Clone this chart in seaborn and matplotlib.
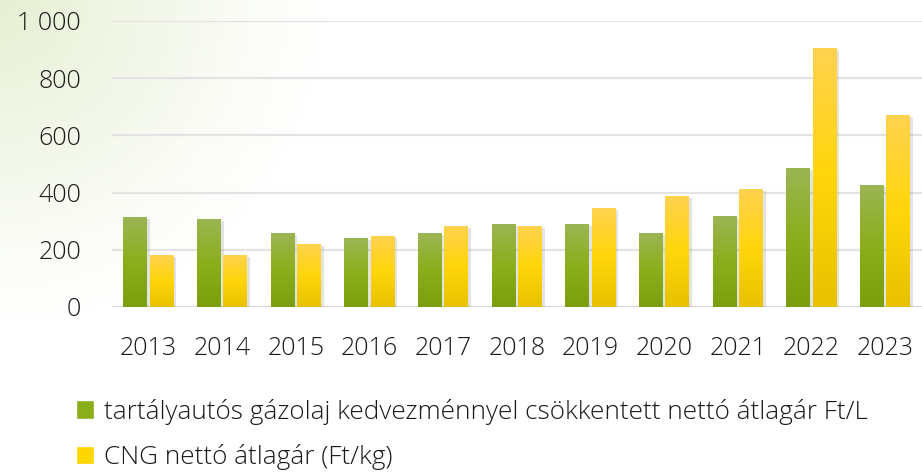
import numpy as np
import pandas as pd
import matplotlib
matplotlib.use("Agg")
import matplotlib.pyplot as plt
import matplotlib.patheffects as pe
from matplotlib.colors import LinearSegmentedColormap
from matplotlib.patches import Patch
from matplotlib.ticker import FuncFormatter
import seaborn as sns

years = ["2013", "2014", "2015", "2016", "2017", "2018", "2019", "2020", "2021", "2022", "2023"]
diesel = [314, 307, 258, 240, 258, 289, 289, 258, 317, 484, 425]
cng = [181, 181, 219, 247, 282, 282, 345, 387, 411, 903, 669]
labels = ["tartályautós gázolaj kedvezménnyel csökkentett nettó átlagár Ft/L",
          "CNG nettó átlagár (Ft/kg)"]
yticks = [0, 200, 400, 600, 800, 1000]

df = pd.DataFrame({
    "year": years * 2,
    "value": diesel + cng,
    "series": [labels[0]] * len(years) + [labels[1]] * len(years),
})

sns.set_theme(style="white")
plt.rcParams["font.family"] = ["Open Sans", "DejaVu Sans"]
plt.rcParams["font.weight"] = 300

fig = plt.figure(figsize=(9.22, 4.72), dpi=100)
fig.patch.set_facecolor("white")

# faint green glow in the top-left corner
bg = fig.add_axes([0, 0, 1, 1], zorder=-5)
h, w = 472, 922
yy, xx = np.mgrid[0:h, 0:w]
d = np.sqrt((xx / 330.0) ** 2 + (yy / 330.0) ** 2)
alpha = np.clip(1 - d, 0, 1) ** 1.2 * 0.35
img = np.zeros((h, w, 4))
img[..., 0], img[..., 1], img[..., 2] = 0.72, 0.82, 0.50
img[..., 3] = alpha
bg.imshow(img, extent=[0, 1, 0, 1], aspect="auto")
bg.axis("off")

ax = fig.add_axes([0.121, 0.3496, 0.879, 0.606])
ax.patch.set_alpha(0)

palette = {labels[0]: "#8aae1a", labels[1]: "#ffd700"}
sns.barplot(data=df, x="year", y="value", hue="series", hue_order=labels,
            palette=palette, width=0.72, gap=0.1, legend=False, ax=ax,
            saturation=1, zorder=3)

cmaps = [
    LinearSegmentedColormap.from_list("g", ["#9bb552", "#8bae1c", "#7a9e0c"]),
    LinearSegmentedColormap.from_list("y", ["#ffd24e", "#ffd60a", "#e8c200"]),
]
grad = np.linspace(0, 1, 100).reshape(-1, 1)
for cont, cm in zip(ax.containers, cmaps):
    for bar in cont:
        x0, bw, bh = bar.get_x(), bar.get_width(), bar.get_height()
        bar.set_edgecolor("none")
        bar.set_path_effects([pe.SimplePatchShadow(offset=(2, -1), shadow_rgbFace="#909090", alpha=0.25),
                              pe.Normal()])
        ax.imshow(grad, cmap=cm, extent=[x0, x0 + bw, 0, bh], aspect="auto",
                  origin="upper", zorder=4)

ax.set_xlim(-0.5, len(years) - 0.5)
ax.set_ylim(0, 1000)
ax.set_yticks(yticks)
ax.yaxis.set_major_formatter(FuncFormatter(lambda v, p: f"{v:,.0f}".replace(",", " ")))
ax.grid(axis="y", color="#e3e3e3", linewidth=1.6, zorder=0)
ax.axhline(0, color="#dadada", linewidth=2.2, zorder=2)
for s in ax.spines.values():
    s.set_visible(False)
ax.set_xlabel("")
ax.set_ylabel("")
ax.tick_params(axis="both", length=0, labelsize=18, colors="#1a1a1a")
ax.tick_params(axis="y", pad=22)
ax.tick_params(axis="x", pad=21)

handles = [Patch(facecolor="#8aae1a", label=labels[0]),
           Patch(facecolor="#ffd700", label=labels[1])]
leg = fig.legend(handles=handles, loc="upper left", bbox_to_anchor=(0.068, 0.183),
                 frameon=False, fontsize=18.8, handlelength=0.7, handleheight=0.7,
                 handletextpad=0.4, labelspacing=0.74, borderpad=0)
for t in leg.get_texts():
    t.set_color("#1a1a1a")

fig.savefig("out.png", dpi=100)
